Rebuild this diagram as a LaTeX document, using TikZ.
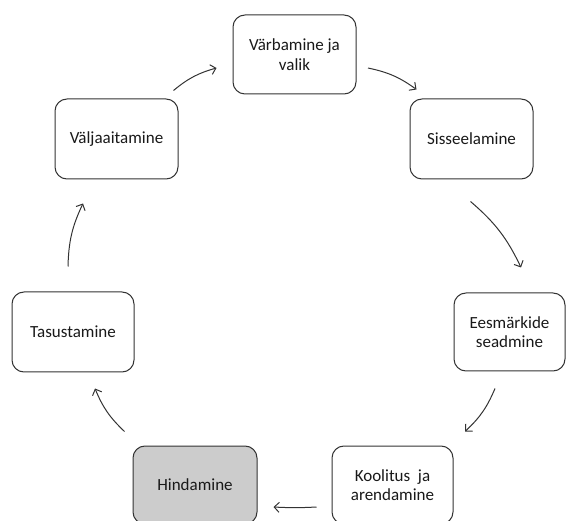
\documentclass[tikz,border=0pt]{standalone}
\usepackage{fontspec}
\setmainfont{Carlito}
\usetikzlibrary{arrows.meta}
\begin{document}
\begin{tikzpicture}[x=1pt,y=-1pt,
  stage/.style={draw=black!80, line width=1pt, rounded corners=12pt, fill=white,
    align=center, inner sep=2pt, text=black!90,
    font=\fontsize{17}{19.5}\selectfont},
  flow/.style={draw=black!80, line width=1pt,
    -{Straight Barb[length=5pt,width=10pt]}, bend left=12}]
\useasboundingbox (0,0) rectangle (568,521);
\clip (0,0) rectangle (568,521);

\node[stage, minimum width=123pt, minimum height=79pt] (vrb) at (294.5,54.5) {Värbamine ja\\valik};
\node[stage, minimum width=123pt, minimum height=80pt] (sis) at (471.5,139) {Sisseelamine};
\node[stage, minimum width=111pt, minimum height=78pt] (ees) at (509.5,332) {Eesmärkide\\seadmine};
\node[stage, minimum width=121pt, minimum height=78pt] (koo) at (392.5,485) {Koolitus\ \ ja\\arendamine};
\node[stage, minimum width=124pt, minimum height=78pt, fill=black!20] (hin) at (195,485) {Hindamine};
\node[stage, minimum width=122pt, minimum height=80pt] (tas) at (73,332) {Tasustamine};
\node[stage, minimum width=123pt, minimum height=80pt] (vlj) at (116.5,139) {Väljaaitamine};

\draw[flow] ([shift={(-5,-8)}]vlj.north east) to ([shift={(-16,13.5)}]vrb.west);
\draw[flow] ([shift={(11.5,13.5)}]vrb.east) to ([shift={(7,-9)}]sis.north west);
\draw[flow] ([shift={(-1,22)}]sis.south) to ([shift={(11.5,-25)}]ees.north);
\draw[flow] ([shift={(-14.5,17)}]ees.south) to ([shift={(11.5,-14)}]koo.north east);
\draw[flow, bend left=3] ([shift={(-15,22)}]koo.west) to ([shift={(16,22)}]hin.east);
\draw[flow] ([shift={(-8,-14)}]hin.north west) to ([shift={(22,16)}]tas.south);
\draw[flow] ([shift={(-5,-25)}]tas.north) to ([shift={(-33.5,24)}]vlj.south);
\end{tikzpicture}
\end{document}
